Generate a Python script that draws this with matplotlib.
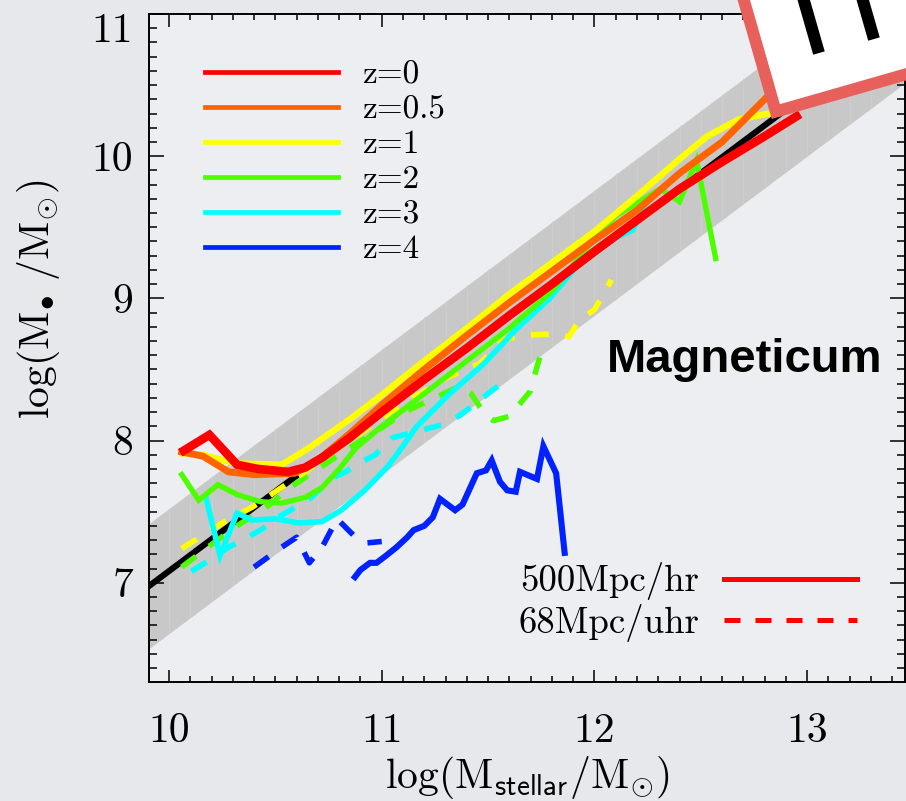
import numpy as np
import matplotlib
matplotlib.use("Agg")
import matplotlib.pyplot as plt
from matplotlib.lines import Line2D
from matplotlib.patches import Rectangle
from matplotlib.ticker import MultipleLocator

plt.rcParams["font.family"] = "cmr10"
plt.rcParams["mathtext.fontset"] = "cm"
plt.rcParams["axes.unicode_minus"] = False

# Haering & Rix (2004) relation and its scatter band
rel_x = [9.90, 13.50]
rel_y = [6.97, 11.00]
rel_scatter = 0.44

z_labels = ["z=0", "z=0.5", "z=1", "z=2", "z=3", "z=4"]
z_colors = ["#ff0000", "#ff6400", "#ffff00", "#4cff00", "#00ffff", "#0022ff"]

# 500Mpc/hr run, log M_stellar vs log M_BH
hr0_x = [10.07, 10.19, 10.32, 10.42, 10.56, 10.64, 10.72, 10.85, 11.0, 11.2, 11.4,
         11.6, 11.8, 12.0, 12.2, 12.4, 12.6, 12.8, 12.95]
hr0_y = [7.93, 8.04, 7.83, 7.80, 7.78, 7.81, 7.88, 8.02, 8.20, 8.43, 8.65,
         8.88, 9.10, 9.33, 9.55, 9.77, 9.96, 10.14, 10.28]
hr05_x = [10.06, 10.16, 10.28, 10.40, 10.59, 10.70, 10.85, 11.0, 11.2, 11.4, 11.6,
          11.8, 12.0, 12.2, 12.4, 12.6, 12.8]
hr05_y = [7.92, 7.89, 7.78, 7.76, 7.77, 7.86, 8.05, 8.25, 8.50, 8.74, 8.97,
          9.19, 9.41, 9.62, 9.88, 10.10, 10.40]
hr1_x = [10.06, 10.16, 10.31, 10.53, 10.66, 10.85, 11.0, 11.2, 11.4, 11.6, 11.8,
         12.0, 12.2, 12.4, 12.53, 12.68, 12.82]
hr1_y = [7.91, 7.90, 7.84, 7.83, 7.95, 8.15, 8.32, 8.56, 8.79, 9.03, 9.25,
         9.47, 9.72, 9.98, 10.14, 10.26, 10.30]
hr2_x = [10.06, 10.14, 10.23, 10.32, 10.43, 10.53, 10.64, 10.72, 10.80, 10.88, 11.0,
         11.2, 11.4, 11.6, 11.8, 12.0, 12.1, 12.31, 12.40, 12.48, 12.57]
hr2_y = [7.76, 7.58, 7.69, 7.62, 7.57, 7.56, 7.60, 7.67, 7.80, 7.95, 8.10,
         8.33, 8.56, 8.79, 9.05, 9.42, 9.58, 9.77, 9.68, 9.97, 9.28]
hr3_x = [10.175, 10.24, 10.32, 10.39, 10.50, 10.61, 10.72, 10.81, 10.92, 11.03, 11.08,
         11.165, 11.32, 11.48, 11.63, 11.79, 11.93, 12.03, 12.18, 12.23]
hr3_y = [7.59, 7.19, 7.49, 7.44, 7.45, 7.42, 7.43, 7.51, 7.65, 7.82, 7.92,
         8.10, 8.33, 8.54, 8.78, 9.00, 9.25, 9.38, 9.48, 9.64]
hr4_x = [10.874, 10.90, 10.945, 10.976, 11.02, 11.07, 11.12, 11.15, 11.20, 11.24, 11.274,
         11.345, 11.38, 11.447, 11.49, 11.517, 11.556, 11.59, 11.63, 11.65, 11.73,
         11.76, 11.82, 11.86]
hr4_y = [7.04, 7.09, 7.14, 7.14, 7.19, 7.25, 7.32, 7.37, 7.40, 7.46, 7.59,
         7.51, 7.55, 7.77, 7.79, 7.86, 7.71, 7.65, 7.64, 7.78, 7.73,
         7.96, 7.77, 7.21]

# 68Mpc/uhr run (z=1..4)
uhr1_x = [10.06, 10.25, 10.39, 10.52, 10.65, 10.78, 10.92, 11.05, 11.18, 11.30, 11.46,
          11.57, 11.67, 11.81, 11.88, 11.93, 12.00, 12.08]
uhr1_y = [7.24, 7.42, 7.53, 7.66, 7.79, 7.93, 8.07, 8.21, 8.33, 8.44, 8.54,
          8.71, 8.74, 8.75, 8.73, 8.85, 8.92, 9.13]
uhr2_x = [10.06, 10.21, 10.34, 10.45, 10.56, 10.70, 10.86, 10.99, 11.12, 11.25, 11.36,
          11.42, 11.46, 11.49, 11.525, 11.60, 11.65, 11.70, 11.73, 11.76]
uhr2_y = [7.11, 7.28, 7.42, 7.52, 7.66, 7.80, 7.96, 8.08, 8.21, 8.30, 8.38,
          8.33, 8.24, 8.18, 8.14, 8.17, 8.26, 8.35, 8.52, 8.67]
uhr3_x = [10.105, 10.17, 10.28, 10.37, 10.44, 10.50, 10.57, 10.67, 10.76, 10.83, 10.905,
          10.97, 11.05, 11.18, 11.305, 11.37, 11.44, 11.50, 11.57]
uhr3_y = [7.08, 7.14, 7.25, 7.32, 7.38, 7.45, 7.51, 7.60, 7.73, 7.78, 7.85,
          7.90, 8.02, 8.07, 8.12, 8.18, 8.26, 8.33, 8.41]
uhr4_x = [10.40, 10.53, 10.60, 10.66, 10.72, 10.79, 10.87, 10.93, 11.00]
uhr4_y = [7.11, 7.25, 7.32, 7.14, 7.25, 7.45, 7.33, 7.28, 7.29]

hr_runs = [(hr0_x, hr0_y), (hr05_x, hr05_y), (hr1_x, hr1_y),
           (hr2_x, hr2_y), (hr3_x, hr3_y), (hr4_x, hr4_y)]
uhr_runs = [None, None, (uhr1_x, uhr1_y), (uhr2_x, uhr2_y),
            (uhr3_x, uhr3_y), (uhr4_x, uhr4_y)]
hr_widths = [6.2, 5.0, 4.6, 3.9, 4.0, 4.4]

x_ticks = [10, 11, 12, 13]
y_ticks = [7, 8, 9, 10, 11]

fig = plt.figure(figsize=(9.06, 8.01), dpi=100, facecolor="#e6e8ec")
ax = fig.add_axes([149 / 906, 1 - 681.7 / 801, 756 / 906, 667.7 / 801])
ax.set_facecolor("#eceef2")
ax.set_xlim(9.906, 13.46)
ax.set_ylim(6.304, 11.0)

# scatter band around the relation
rx = np.array(rel_x)
ry = np.array(rel_y)
band = ax.fill_between(rx, ry - rel_scatter, ry + rel_scatter, color="#c8c8c8",
                       lw=0, zorder=1)
seams = ax.vlines(np.arange(10.0, 13.45, 0.1), 6.0, 11.5, color="#cfcfcf",
                  lw=0.6, zorder=1.1)
seams.set_clip_path(band.get_paths()[0], band.get_transform())

ax.plot(rel_x, rel_y, color="black", lw=4.4, zorder=2)

dash = (0, (3.2, 3.0))
for i in range(5, -1, -1):
    if uhr_runs[i] is not None:
        ux, uy = uhr_runs[i]
        ax.plot(ux, uy, color=z_colors[i], lw=4.0, ls=dash, zorder=3)
for i in range(5, -1, -1):
    hx, hy = hr_runs[i]
    ax.plot(hx, hy, color=z_colors[i], lw=hr_widths[i], zorder=4,
            solid_joinstyle="miter")

# axes styling
ax.set_xticks(x_ticks, labels=[str(v) for v in x_ticks])
ax.set_yticks(y_ticks, labels=[str(v) for v in y_ticks[:-1]] + [""])
ax.xaxis.set_minor_locator(MultipleLocator(0.1))
ax.yaxis.set_minor_locator(MultipleLocator(0.1))
ax.tick_params(which="both", direction="in", top=True, right=True, width=1.1,
               labelsize=30)
ax.tick_params(axis="x", which="major", length=9, pad=22)
ax.tick_params(axis="x", which="minor", length=4.2)
ax.tick_params(axis="y", which="major", length=11, pad=11.5)
ax.tick_params(axis="y", which="minor", length=5.5)
for sp in ax.spines.values():
    sp.set_linewidth(1.4)
ax.text(-0.0212, 0.9585, str(y_ticks[-1]), transform=ax.transAxes,
        ha="right", va="baseline", fontsize=30)

ax.set_xlabel(r"$\mathrm{log(M}_{\mathsf{stellar}}\mathrm{/M}_{\odot}\mathrm{)}$",
              fontsize=30)
ax.set_ylabel(r"$\mathrm{log(M}_{\bullet}\ \mathrm{/M}_{\odot}\mathrm{)}$",
              fontsize=30)
ax.xaxis.set_label_coords(0.5, -0.108)
ax.yaxis.set_label_coords(-0.115, 0.572)

ax.text(0.6058, 0.4638, "Magneticum", transform=ax.transAxes, fontsize=34,
        fontweight="bold", family="Liberation Sans", ha="left", va="baseline")

# legends
z_handles = [Line2D([], [], color=c, lw=3.4) for c in z_colors]
leg1 = ax.legend(z_handles, z_labels, loc="upper left", bbox_to_anchor=(0.074, 0.931),
                 frameon=False, fontsize=24, handlelength=4.0, handletextpad=0.7,
                 labelspacing=0.17, borderpad=0, borderaxespad=0)
ax.add_artist(leg1)

run_handles = [Line2D([], [], color="red", lw=3.6),
               Line2D([], [], color="red", lw=3.6, ls=dash)]
ax.legend(run_handles, ["500Mpc/hr", "68Mpc/uhr"], loc="center right",
          bbox_to_anchor=(0.9365, 0.119), markerfirst=False, frameon=False,
          fontsize=26.5, handlelength=3.6, handletextpad=0.68, labelspacing=0.1,
          borderpad=0, borderaxespad=0)

# slide card overlapping the corner of the plot
def card(x0, y0, w, h, **kw):
    return Rectangle((x0 / 100, y0 / 100), w / 100, h / 100, angle=16,
                     rotation_point="xy", transform=fig.dpi_scale_trans,
                     zorder=10, **kw)

fig.add_artist(card(771.7, 682, 400, 400, facecolor="#e8605c", lw=0))
fig.add_artist(card(779.9, 696.8, 400, 400, facecolor="white", lw=0))
fig.add_artist(card(813.2, 746.3, 12, 90, facecolor="black", lw=0))
fig.add_artist(card(868.2, 760.3, 12, 90, facecolor="black", lw=0))

fig.savefig("out.png", dpi=100, facecolor=fig.get_facecolor())
